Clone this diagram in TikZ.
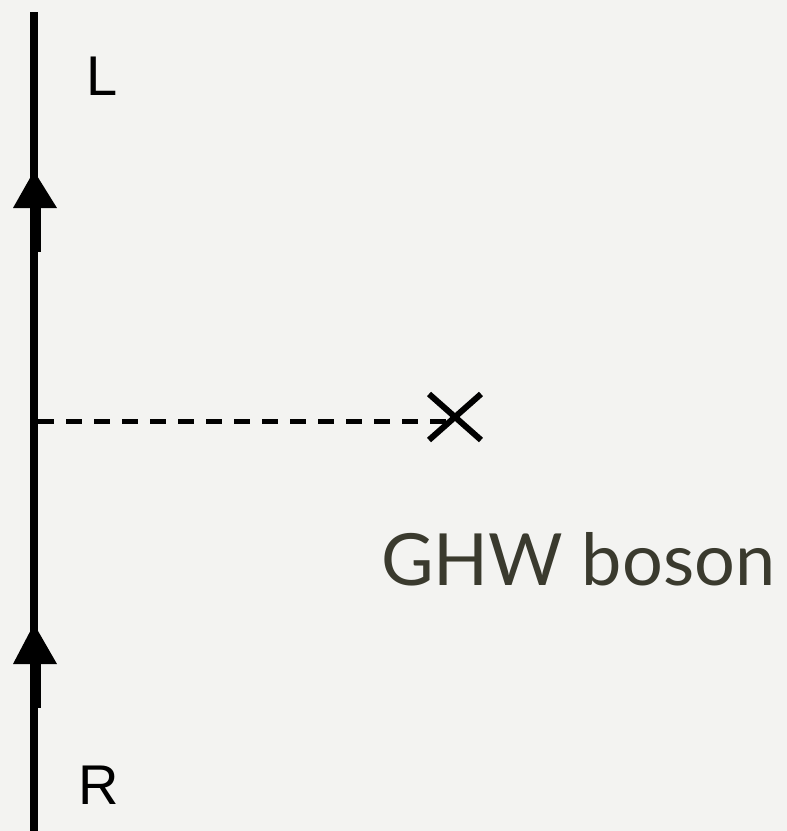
\documentclass[tikz,border=0pt]{standalone}
\usepackage{fontspec}
\setmainfont{Liberation Sans}
\newfontfamily\ghwfont{Lato}
\definecolor{bgc}{HTML}{F3F3F1}
\definecolor{txtc}{HTML}{3A3A2E}
\begin{document}
\begin{tikzpicture}[x=1pt,y=-1pt,
  fermion/.style={line width=8pt},
  scalar/.style={line width=5pt, dash pattern=on 16pt off 12pt},
  crossline/.style={line width=6pt},
  arrowhead/.style={fill=black},
  chir/.style={inner sep=0pt, anchor=base west, font=\fontsize{56}{60}\selectfont},
  ghw/.style={inner sep=0pt, anchor=base west, text=txtc, font=\ghwfont\fontsize{72}{80}\selectfont}]
\fill[bgc] (0,0) rectangle (787,831);
\useasboundingbox (0,0) rectangle (787,831);
\coordinate (top) at (34,12);
\coordinate (bot) at (34,831);
\coordinate (v) at (38,421);
\coordinate (x) at (452,421);
\draw[fermion] (bot) -- (top);
% arrows
\fill[arrowhead] (34,171) -- (57,208) -- (13,208) -- cycle;
\fill[arrowhead] (36,207) rectangle (41,252);
\fill[arrowhead] (34,624) -- (57,664) -- (13,664) -- cycle;
\fill[arrowhead] (36,663) rectangle (41,708);
% scalar line
\draw[scalar] (v) -- (x);
\draw[crossline] (429,394) -- (481,440);
\draw[crossline] (429,440) -- (481,394);
% labels
\node[chir] (L) at (86,95) {L};
\node[chir] (R) at (78,804) {R};
\node[ghw] (label) at (381,585) {GHW boson};
\end{tikzpicture}
\end{document}
